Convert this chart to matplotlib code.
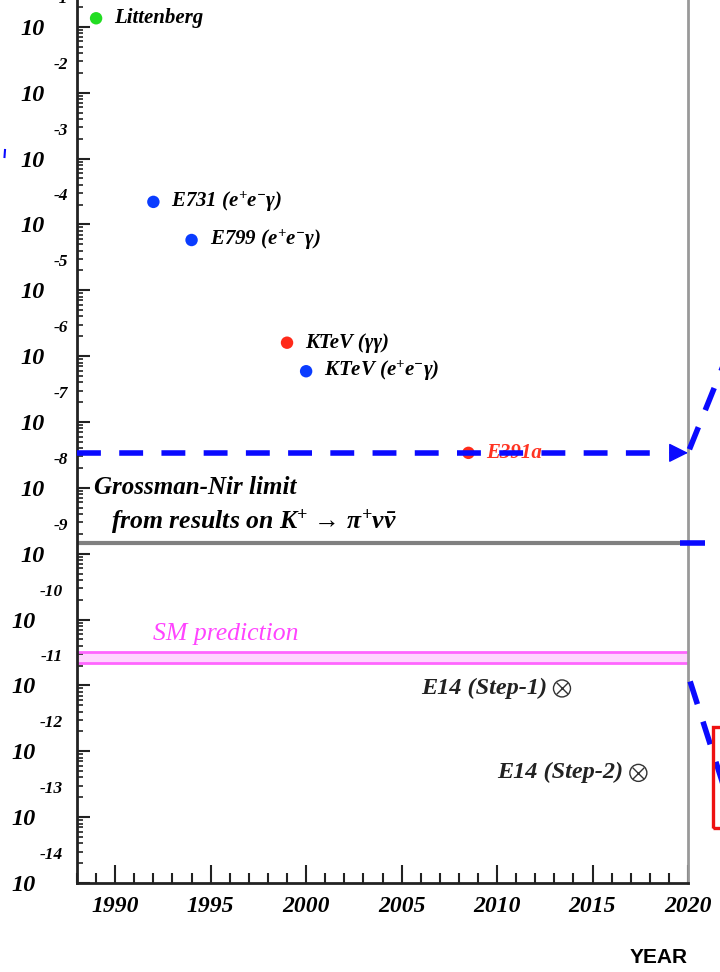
import numpy as np
import matplotlib.pyplot as plt
from matplotlib.ticker import FixedLocator, NullLocator, MultipleLocator, FuncFormatter
from matplotlib.patches import Rectangle
from matplotlib.lines import Line2D

plt.rcParams['font.family'] = ['Liberation Serif', 'DejaVu Serif']
plt.rcParams['mathtext.fontset'] = 'custom'
plt.rcParams['mathtext.rm'] = 'Liberation Serif:bold:italic'
plt.rcParams['mathtext.it'] = 'Liberation Serif:bold:italic'
plt.rcParams['mathtext.bf'] = 'Liberation Serif:bold:italic'

# Upper limits on BR(KL -> pi0 nu nubar) by experiment
exp_labels = ['Littenberg',
              r'E731 (e$^{+}$e$^{-}$γ)',
              r'E799 (e$^{+}$e$^{-}$γ)',
              'KTeV (γγ)',
              r'KTeV (e$^{+}$e$^{-}$γ)',
              'E391a']
exp_years = [1989, 1992, 1994, 1999, 2000, 2008.5]
exp_limits = [1.35e-1, 2.2e-4, 5.8e-5, 1.6e-6, 5.9e-7, 3.4e-8]
exp_colors = ['#22dd22', '#0a3cff', '#0a3cff', '#ff2a1a', '#0a3cff', '#ff2a1a']
label_colors = ['black', 'black', 'black', 'black', 'black', '#ff3322']

# Expected E14 sensitivities
e14_labels = ['E14 (Step-1)', 'E14 (Step-2)']
e14_years = [2013.4, 2017.4]
e14_sens = [9.0e-12, 4.7e-13]

gn_limit = 1.46e-9
sm_low, sm_high = 2.2e-11, 3.2e-11
callout_low = 1.45e-11

decades = list(range(-14, 0))

blue = '#0a0aff'

fig = plt.figure(figsize=(7.2, 9.72), dpi=100)
ax = fig.add_axes([77/720, 89/972, 611/720, 922/972])
ax.set_yscale('log')
ax.set_xlim(1988, 2020)
ax.set_ylim(1e-14, 1e0)

# experimental points
for yr, lim, c, lab, lc in zip(exp_years, exp_limits, exp_colors, exp_labels, label_colors):
    ax.scatter(yr, lim, s=80, color=c, zorder=4, edgecolors='none')
    ax.annotate(lab, xy=(yr, lim), xytext=(18, 0), textcoords='offset pixels',
                ha='left', va='center', fontsize=15, style='italic',
                weight='bold', color=lc, zorder=4)

# E14 projections
for yr, s, lab in zip(e14_years, e14_sens, e14_labels):
    ax.scatter(yr, s, s=150, facecolors='none', edgecolors='#333333',
               linewidths=1.0, zorder=4)
    ax.scatter(yr, s, s=70, marker='x', color='#333333', linewidths=1.0, zorder=4)
    ax.annotate(lab, xy=(yr, s), xytext=(-15, 0), textcoords='offset pixels',
                ha='right', va='center', fontsize=17.5, style='italic',
                weight='bold', color='#222222')

# Grossman-Nir bound
ax.axhline(gn_limit, color='#808080', lw=3, zorder=2)
ax.text(1988.9, gn_limit * 10**0.835, 'Grossman-Nir limit', fontsize=18,
        style='italic', weight='bold', ha='left', va='center')
ax.text(1989.8, gn_limit * 10**0.32,
        r'from results on K$^{+}$ → $\pi^{+}\nu\bar{\nu}$', fontsize=18.5,
        style='italic', weight='bold', ha='left', va='center')

# SM prediction band
ax.fill_between([1988, 2020], sm_low, sm_high, color='#ffd6ff', lw=0, zorder=1)
ax.axhline(sm_low, color='#ff66ff', lw=2, zorder=2)
ax.axhline(sm_high, color='#ff66ff', lw=2, zorder=2)
ax.text(1992.0, sm_high * 10**0.27, 'SM prediction', fontsize=18.5,
        style='italic', color='#ff44ff', ha='left', va='center')

# dashed blue arrow at the E391a level
ytr = ax.get_yaxis_transform()
ax.plot([0, 0.943], [exp_limits[-1]] * 2, transform=ytr, color=blue, lw=4,
        ls=(0, (4.3, 3.3)), solid_capstyle='butt', dash_capstyle='butt', zorder=6)
ax.annotate('', xy=(1.0, exp_limits[-1]), xycoords=ytr, xytext=(-18, 0),
            textcoords='offset pixels',
            arrowprops=dict(arrowstyle='-|>,head_length=1.2,head_width=0.6',
                            color=blue, lw=1, shrinkA=0, shrinkB=0), zorder=6)
ax.annotate('', xy=(1.0, exp_limits[-1]), xycoords=ytr, xytext=(42, 104),
            textcoords='offset pixels', annotation_clip=False,
            arrowprops=dict(arrowstyle='-', color=blue, lw=4, ls=(0, (4.3, 3.3)),
                            shrinkA=0, shrinkB=0, capstyle='butt'), zorder=6)
ax.plot([0.987, 1.028], [gn_limit] * 2, transform=ytr, color=blue, lw=4,
        clip_on=False, solid_capstyle='butt', zorder=6)
ax.annotate('', xy=(1.0, callout_low), xycoords=ytr, xytext=(48, -150),
            textcoords='offset pixels', annotation_clip=False,
            arrowprops=dict(arrowstyle='-', color=blue, lw=4, ls=(0, (4.3, 3.3)),
                            shrinkA=0, shrinkB=0, capstyle='butt'), zorder=6)

fig.patches.append(Rectangle((713/720, 144/972), 0.1, 101/972, transform=fig.transFigure,
                             fill=False, ec='#ee1111', lw=2.4, zorder=7))
fig.add_artist(Line2D([5/720, 4.5/720], [822/972, 815/972], color=blue, lw=1.5))

# spines
for side in ['left', 'bottom']:
    ax.spines[side].set_color('#222222')
    ax.spines[side].set_linewidth(2)
ax.spines['right'].set_color('#999999')
ax.spines['right'].set_linewidth(2)
ax.spines['top'].set_visible(False)

# x axis
ax.xaxis.set_major_locator(MultipleLocator(5))
ax.xaxis.set_minor_locator(MultipleLocator(1))
ax.tick_params(axis='x', which='major', direction='in', length=13, width=1.5,
               color='#222222', pad=9, labelsize=17)
ax.tick_params(axis='x', which='minor', direction='in', length=7, width=1.5,
               color='#222222')
for lab in ax.get_xticklabels():
    lab.set_style('italic')
    lab.set_weight('bold')
ax.set_xlabel('YEAR', loc='right', fontfamily='Liberation Sans', fontsize=15,
              weight='bold', labelpad=23)

# y axis: mantissa labels on the main axis, exponents on a secondary one
ax.yaxis.set_major_locator(FixedLocator([10.0**e for e in decades]))
ax.yaxis.set_minor_locator(FixedLocator([m * 10.0**e for e in decades
                                         for m in range(2, 10)]))
ax.yaxis.set_major_formatter(FuncFormatter(lambda v, p: '10'))
ax.tick_params(axis='y', which='major', direction='in', length=9, width=1.5,
               color='#222222', labelsize=17.5)
ax.tick_params(axis='y', which='minor', direction='in', length=4.5, width=1.2,
               color='#222222')
for tick, e in zip(ax.yaxis.get_major_ticks(), decades):
    tick.set_pad(30 if e <= -10 else 23)
for lab in ax.get_yticklabels():
    lab.set_style('italic')
    lab.set_weight('bold')

sec = ax.secondary_yaxis('left')
sec.set_yticks([10.0**(e + 0.455) for e in decades])
sec.set_yticklabels([f'{e}' for e in decades])
sec.yaxis.set_minor_locator(NullLocator())
sec.spines['left'].set_visible(False)
sec.tick_params(axis='y', length=0, labelsize=12.5)
for tick, e in zip(sec.yaxis.get_major_ticks(), decades):
    tick.set_pad(10 if e <= -10 else 6.5)
for lab in sec.get_yticklabels():
    lab.set_style('italic')
    lab.set_weight('bold')

plt.savefig('out.png', dpi=100)
plt.close()
